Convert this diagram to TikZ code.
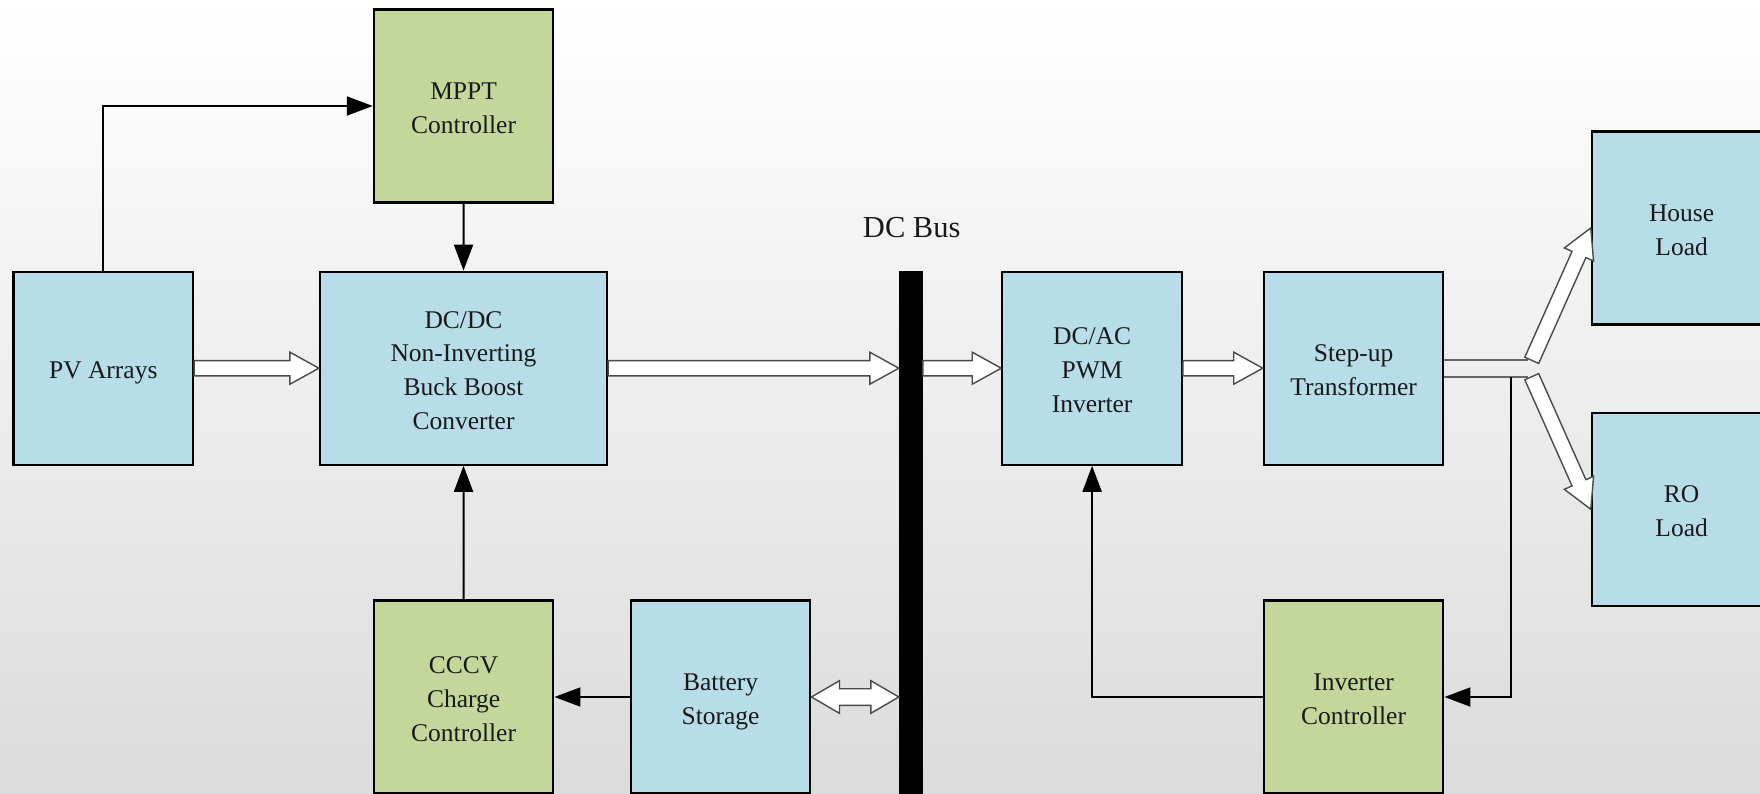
\documentclass[tikz,border=0pt]{standalone}
\usepackage{fontspec}
\setmainfont{Liberation Serif}
\usetikzlibrary{calc,arrows.meta}

\definecolor{boxblue}{HTML}{B7DDE8}
\definecolor{boxgreen}{HTML}{C4D79B}
\definecolor{rimgray}{HTML}{4A4A4A}
\definecolor{shaftgray}{HTML}{666666}

% full-height line strut so block text is centred on whole line boxes
\newcommand\linestrut{\rule[-0.216em]{0pt}{1.25em}}
\newcommand\blocktext[1]{\linestrut#1\linestrut}

% Hollow power-flow arrow from #1 (tail) to #2 (tip)
\newcommand\fatarrow[2]{%
  \coordinate (fa-s) at (#1);
  \coordinate (fa-t) at (#2);
  \coordinate (fa-h) at ($(fa-t)!29pt!(fa-s)$);
  \filldraw[fatline]
    ($(fa-s)!7.6pt!90:(fa-t)$) -- ($(fa-h)!7.6pt!90:(fa-t)$) --
    ($(fa-h)!16pt!90:(fa-t)$) -- (fa-t) --
    ($(fa-h)!16pt!-90:(fa-t)$) -- ($(fa-h)!7.6pt!-90:(fa-t)$) --
    ($(fa-s)!7.6pt!-90:(fa-t)$) -- cycle;
}
% Hollow arrow with heads at both ends
\newcommand\dblfatarrow[2]{%
  \coordinate (da-a) at (#1);
  \coordinate (da-b) at (#2);
  \coordinate (da-h1) at ($(da-a)!28pt!(da-b)$);
  \coordinate (da-h2) at ($(da-b)!28pt!(da-a)$);
  \filldraw[fatline]
    (da-a) -- ($(da-h1)!16.3pt!90:(da-b)$) -- ($(da-h1)!8.3pt!90:(da-b)$) --
    ($(da-h2)!8.3pt!-90:(da-a)$) -- ($(da-h2)!16.3pt!-90:(da-a)$) --
    (da-b) --
    ($(da-h2)!16.3pt!90:(da-a)$) -- ($(da-h2)!8.3pt!90:(da-a)$) --
    ($(da-h1)!8.3pt!-90:(da-b)$) -- ($(da-h1)!16.3pt!-90:(da-b)$) -- cycle;
}

\tikzset{
  block/.style={draw=black, line width=2.2pt, minimum width=179.5pt,
    minimum height=193pt, inner sep=0pt, align=center, text=black!90,
    font=\fontsize{25.5}{33.7}\selectfont},
  blue block/.style={block, fill=boxblue},
  green block/.style={block, fill=boxgreen},
  fatline/.style={draw=rimgray, fill=white, line width=1.4pt, line join=miter},
  shaft/.style={draw=shaftgray, line width=2pt},
  ctl/.style={line width=2pt, -{Triangle[length=26pt,width=19pt]}},
}

\begin{document}
\begin{tikzpicture}[x=1pt, y=-1pt]
  \useasboundingbox (0,0) rectangle (1760,794);
  \shade[top color=white, bottom color=black!14] (0,0) rectangle (1760,794);

  % blocks
  \node[blue block]  (pv)    at (103.3,368.2) {\blocktext{PV Arrays}};
  \node[green block] (mppt)  at (463.6,106)   {\blocktext{MPPT\\Controller}};
  \node[blue block, minimum width=287pt] (dcdc) at (463.5,368.2)
        {\blocktext{DC/DC\\Non-Inverting\\Buck Boost\\Converter}};
  \node[green block] (cccv)  at (463.6,697)   {\blocktext{CCCV\\Charge\\Controller}};
  \node[blue block]  (batt)  at (720.6,697)   {\blocktext{Battery\\Storage}};
  \node[fill=black, inner sep=0pt, minimum width=23.6pt, minimum height=530pt]
        (bus) at (910.8,535.5) {};
  \node[anchor=base, font=\fontsize{30.5}{36}\selectfont, text=black!90]
        (buslabel) at (911.7,237.7) {DC Bus};
  \node[blue block]  (dcac)  at (1092.1,368.2) {\blocktext{DC/AC\\PWM\\Inverter}};
  \node[blue block]  (step)  at (1353.6,368.2) {\blocktext{Step-up\\Transformer}};
  \node[green block] (invc)  at (1353.6,697)   {\blocktext{Inverter\\Controller}};
  \node[blue block]  (house) at (1681.6,228)   {\blocktext{House\\Load}};
  \node[blue block]  (ro)    at (1681.6,509.3) {\blocktext{RO\\Load}};

  % power flow
  \fatarrow{pv.east}{dcdc.west}
  \fatarrow{dcdc.east}{dcdc.east -| bus.west}
  \fatarrow{bus.east |- dcac.west}{dcac.west}
  \fatarrow{dcac.east}{step.west}
  \dblfatarrow{batt.east}{batt.east -| bus.west}

  % transformer output splitting to the two loads
  \coordinate (split up) at ($(step.east)+(87.3,-7.9)$);
  \coordinate (split dn) at ($(step.east)+(87.3,8.5)$);
  \coordinate (tap) at ($(step.east)+(66.6,8.5)$);
  \draw[shaft] ($(step.east)+(0,-7.8)$) -- ++(84,0);
  \draw[shaft] ($(step.east)+(0,8.5)$) -- ++(84,0);
  \fatarrow{split up}{house.west}
  \fatarrow{split dn}{ro.west}

  % control signals
  \draw[ctl] (pv.north) |- (mppt.west);
  \draw[ctl] (mppt.south) -- (dcdc.north);
  \draw[ctl] (cccv.north) -- (dcdc.south);
  \draw[ctl] (batt.west) -- (cccv.east);
  \draw[ctl] (invc.west) -| (dcac.south);
  \draw[ctl] (tap) |- (invc.east);
\end{tikzpicture}
\end{document}
